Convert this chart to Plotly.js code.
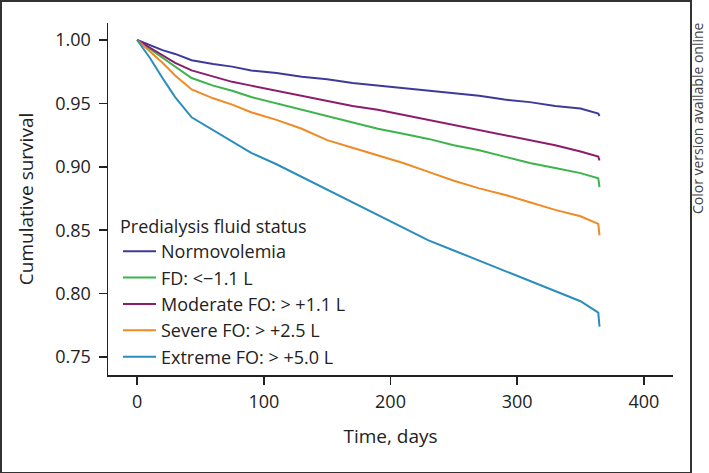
<!DOCTYPE html>
<html>
<head>
<meta charset="utf-8">
<script src="https://cdn.plot.ly/plotly-3.0.1.min.js"></script>
<style>
  body { margin: 0; background: #fff; }
  #wrap { position: relative; width: 709px; height: 473px; }
  #graph { width: 709px; height: 473px; }
  #frame {
    position: absolute; left: 0; top: 0; width: 688px; height: 470px;
    border: 2px solid #333; pointer-events: none;
  }
</style>
</head>
<body>
<div id="wrap">
  <div id="graph"></div>
  <div id="frame"></div>
</div>
<script>
// Days since start (last two points give the vertical drop at the end of follow-up)
var days = [0, 10, 20, 30, 43, 60, 75, 90, 110, 130, 150, 170, 190, 210, 230, 250, 270, 290, 310, 330, 350, 364, 365];

// Cumulative survival
var normovolemia = [1.0, 0.996, 0.992, 0.989, 0.984, 0.981, 0.979, 0.976, 0.974, 0.971, 0.969, 0.966, 0.964, 0.962, 0.960, 0.958, 0.956, 0.953, 0.951, 0.948, 0.946, 0.942, 0.940];
var fdLow = [1.0, 0.993, 0.986, 0.979, 0.970, 0.964, 0.960, 0.955, 0.950, 0.945, 0.940, 0.935, 0.930, 0.926, 0.922, 0.917, 0.913, 0.908, 0.903, 0.899, 0.895, 0.891, 0.884];
var moderateFO = [1.0, 0.994, 0.988, 0.982, 0.976, 0.971, 0.967, 0.964, 0.960, 0.956, 0.952, 0.948, 0.945, 0.941, 0.937, 0.933, 0.929, 0.925, 0.921, 0.917, 0.912, 0.908, 0.905];
var severeFO = [1.0, 0.991, 0.982, 0.972, 0.961, 0.954, 0.949, 0.943, 0.937, 0.930, 0.921, 0.915, 0.909, 0.903, 0.896, 0.889, 0.883, 0.878, 0.872, 0.866, 0.861, 0.855, 0.846];
var extremeFO = [1.0, 0.986, 0.970, 0.955, 0.939, 0.929, 0.920, 0.911, 0.902, 0.892, 0.882, 0.872, 0.862, 0.852, 0.842, 0.834, 0.826, 0.818, 0.810, 0.802, 0.794, 0.785, 0.774];

var seriesNames = ['Normovolemia', 'FD: <\u22121.1 L', 'Moderate FO: > +1.1 L', 'Severe FO: > +2.5 L', 'Extreme FO: > +5.0 L'];
var seriesValues = [normovolemia, fdLow, moderateFO, severeFO, extremeFO];
var seriesColors = ['#3d3a9c', '#3cb44b', '#8c1c6c', '#f08a24', '#2a8dbd'];

var xTicks = [0, 100, 200, 300, 400];
var yTicks = [0.75, 0.80, 0.85, 0.90, 0.95, 1.00];

var font = 'Open Sans, Noto Sans, sans-serif';

var traces = seriesValues.map(function (vals, i) {
  return {
    x: days,
    y: vals,
    mode: 'lines',
    type: 'scatter',
    name: seriesNames[i],
    line: { color: seriesColors[i], width: 2 }
  };
});

var layout = {
  width: 709,
  height: 473,
  margin: { l: 108, r: 36, t: 23, b: 98 },
  paper_bgcolor: '#fff',
  plot_bgcolor: '#fff',
  font: { family: font, size: 18, color: '#222' },
  showlegend: true,
  legend: {
    title: { text: 'Predialysis fluid status', font: { size: 18 } },
    font: { size: 18 },
    x: 0.0177, y: 0.47, xanchor: 'left', yanchor: 'top',
    bgcolor: 'rgba(0,0,0,0)',
    itemwidth: 33
  },
  xaxis: {
    range: [-23, 423],
    tickvals: xTicks,
    ticks: 'outside', ticklen: 8, tickwidth: 1.5, tickcolor: '#222',
    ticklabelstandoff: 2,
    showline: true, linecolor: '#222', linewidth: 1.5,
    showgrid: false, zeroline: false,
    title: { text: 'Time, days', standoff: 17, font: { size: 19 } }
  },
  yaxis: {
    range: [0.7358, 1.0134],
    tickvals: yTicks,
    tickformat: '.2f',
    ticks: 'outside', ticklen: 8, tickwidth: 1.5, tickcolor: '#222',
    ticklabelstandoff: 4,
    showline: true, linecolor: '#222', linewidth: 1.5,
    showgrid: false, zeroline: false,
    title: { text: 'Cumulative survival', standoff: 16, font: { size: 19 } }
  },
  annotations: [{
    text: 'Color version available online',
    xref: 'paper', yref: 'paper',
    x: 1.0425, y: 0.73,
    xanchor: 'center', yanchor: 'middle',
    textangle: -90,
    showarrow: false,
    font: { family: font, size: 14, color: '#444' }
  }]
};

Plotly.newPlot('graph', traces, layout, { displayModeBar: false, staticPlot: true });
</script>
</body>
</html>
